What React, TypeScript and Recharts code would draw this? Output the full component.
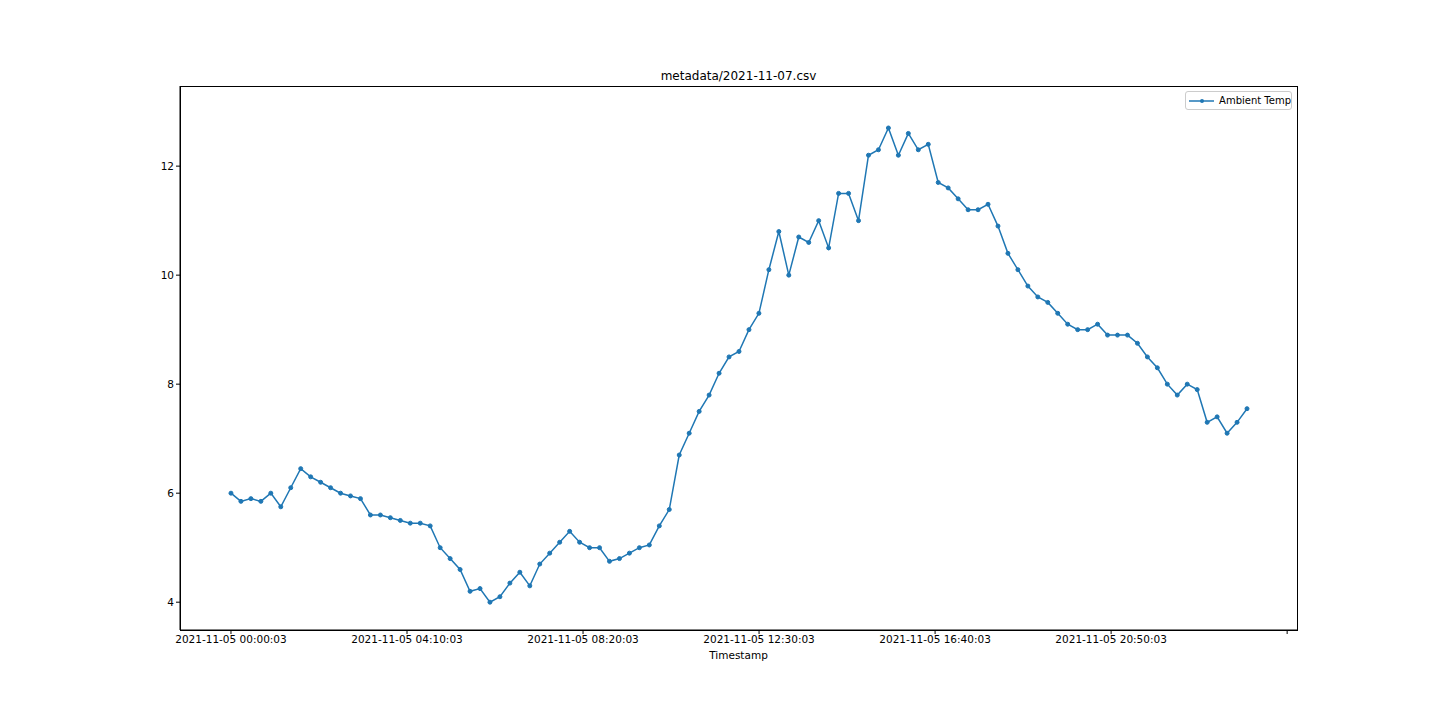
import { LineChart, Line, XAxis, YAxis } from 'recharts'

// ambient temperature, every 14.2 minutes
const temps = [
  6.0, 5.85, 5.9, 5.85, 6.0, 5.75, 6.1, 6.45, 6.3, 6.2, 6.1, 6.0, 5.95, 5.9, 5.6, 5.6,
  5.55, 5.5, 5.45, 5.45, 5.4, 5.0, 4.8, 4.6, 4.2, 4.25, 4.0, 4.1, 4.35, 4.55, 4.3, 4.7,
  4.9, 5.1, 5.3, 5.1, 5.0, 5.0, 4.75, 4.8, 4.9, 5.0, 5.05, 5.4, 5.7, 6.7, 7.1, 7.5,
  7.8, 8.2, 8.5, 8.6, 9.0, 9.3, 10.1, 10.8, 10.0, 10.7, 10.6, 11.0, 10.5, 11.5, 11.5, 11.0,
  12.2, 12.3, 12.7, 12.2, 12.6, 12.3, 12.4, 11.7, 11.6, 11.4, 11.2, 11.2, 11.3, 10.9, 10.4, 10.1,
  9.8, 9.6, 9.5, 9.3, 9.1, 9.0, 9.0, 9.1, 8.9, 8.9, 8.9, 8.75, 8.5, 8.3, 8.0, 7.8,
  8.0, 7.9, 7.3, 7.4, 7.1, 7.3, 7.55,
]
const stepMin = 1443 / (temps.length - 1)
const data = temps.map((t, i) => ({ min: i * stepMin, temp: t }))

const xTicks = [0, 250, 500, 750, 1000, 1250, 1500]
const xTickLabels = [
  '2021-11-05 00:00:03', '2021-11-05 04:10:03', '2021-11-05 08:20:03',
  '2021-11-05 12:30:03', '2021-11-05 16:40:03', '2021-11-05 20:50:03', '',
]
const yTicks = [4, 6, 8, 10, 12]

const tickStyle = { fontSize: 10.5, fill: '#000' }
const blue = '#1f77b4'

export default function App() {
  return (
    <div style={{ position: 'absolute', left: 0, top: 0, width: 1440, height: 720, background: '#fff', fontFamily: 'DejaVu Sans' }}>
      <div style={{ position: 'absolute', top: 69, left: 180, width: 1117, textAlign: 'center', fontSize: 12 }}>
        metadata/2021-11-07.csv
      </div>
      {/* axes frame */}
      <div style={{ position: 'absolute', top: 86, left: 180, width: 1116, height: 543, border: '1px solid #000', pointerEvents: 'none' }} />
      <div style={{ position: 'absolute', top: 91, left: 1185, width: 105, height: 17, border: '1px solid #ccc', borderRadius: 3, fontSize: 10, display: 'flex', alignItems: 'center', background: '#fff', zIndex: 2, whiteSpace: 'nowrap' }}>
        <svg width={26} height={10} style={{ marginLeft: 3 }}>
          <line x1={0} y1={5} x2={26} y2={5} stroke={blue} strokeWidth={1.5} />
          <circle cx={13} cy={5} r={2} fill={blue} />
        </svg>
        <span style={{ marginLeft: 5 }}>Ambient Temp</span>
      </div>
      <LineChart width={1440} height={720} data={data} margin={{ top: 86, right: 143, bottom: 0, left: 0 }}>
        <XAxis
          dataKey="min" type="number" domain={[-72.4, 1514]} ticks={xTicks}
          tickFormatter={(v) => xTickLabels[xTicks.indexOf(v)] ?? ''}
          tick={tickStyle} stroke="#000" height={90} tickSize={4}
          label={{ value: 'Timestamp', position: 'insideTop', offset: 22, fontSize: 10.5, fill: '#000' }}
        />
        <YAxis domain={[3.49, 13.47]} ticks={yTicks} tick={tickStyle} stroke="#000" width={180} tickSize={4} />
        <Line
          dataKey="temp" stroke={blue} strokeWidth={1.5}
          dot={{ r: 2, fill: blue, stroke: blue, strokeWidth: 1 }} isAnimationActive={false}
        />
      </LineChart>
    </div>
  )
}
